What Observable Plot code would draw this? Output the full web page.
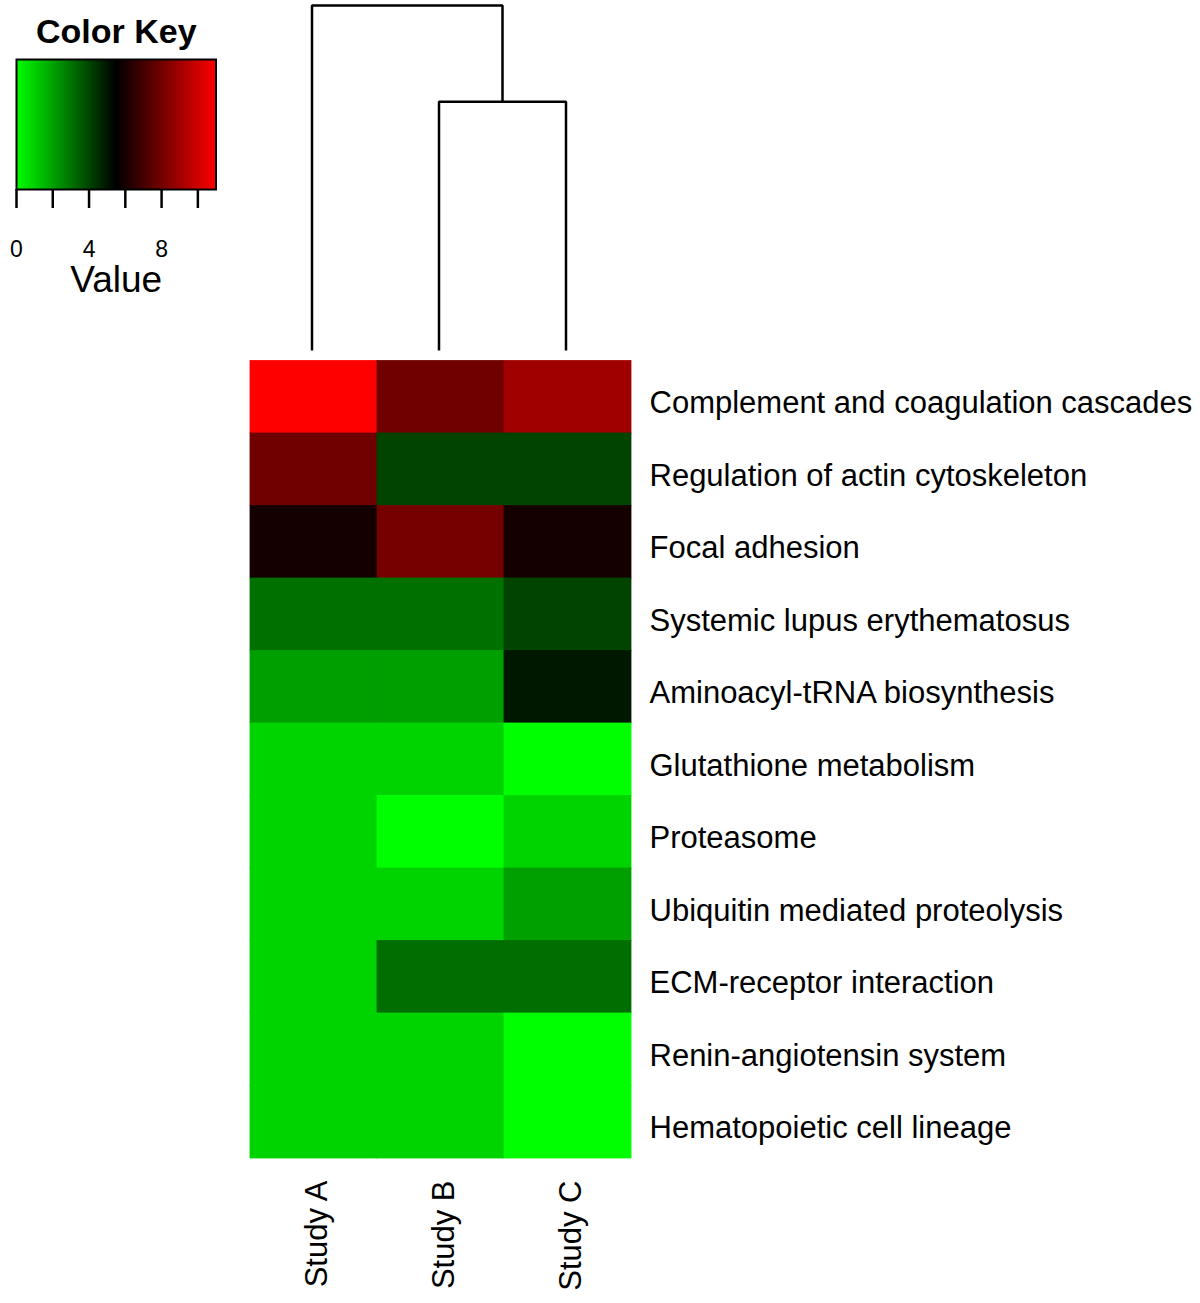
<!DOCTYPE html>
<html>
<head>
<meta charset="utf-8">
<script src="https://cdn.jsdelivr.net/npm/d3@7"></script>
<script src="https://cdn.jsdelivr.net/npm/@observablehq/plot@0.6"></script>
<style>
  html, body { margin: 0; padding: 0; background: white; }
  #chart { position: relative; width: 1200px; height: 1303px; background: white; }
  #chart svg { position: absolute; background: transparent; }
</style>
</head>
<body>
<div id="chart"></div>
<script>
// ---- Data ----
const studies = ["Study A", "Study B", "Study C"];
const pathways = [
  "Complement and coagulation cascades",
  "Regulation of actin cytoskeleton",
  "Focal adhesion",
  "Systemic lupus erythematosus",
  "Aminoacyl-tRNA biosynthesis",
  "Glutathione metabolism",
  "Proteasome",
  "Ubiquitin mediated proteolysis",
  "ECM-receptor interaction",
  "Renin-angiotensin system",
  "Hematopoietic cell lineage"
];
const studyA = [11.0, 7.92, 5.95, 3.08, 2.07, 0.93, 0.93, 0.93, 0.93, 0.93, 0.93];
const studyB = [7.92, 4.03, 8.02, 3.08, 2.07, 0.93, 0.00, 0.93, 3.13, 0.93, 0.93];
const studyC = [8.95, 4.03, 5.95, 4.03, 4.98, 0.00, 0.93, 2.05, 3.13, 0.00, 0.00];

// dendrogram merges (column clustering)
const merges = [
  {id: "BC", left: "Study B", right: "Study C", height: 4.4},
  {id: "root", left: "Study A", right: "BC", height: 6.1}
];

// colour key
const keyDomain = [0, 5.5, 11];
const keyColors = ["#00ff00", "#000000", "#ff0000"];
const keyTicks = [0, 2, 4, 6, 8, 10];
const keyTickLabels = [0, 4, 8];

// ---- Build tables ----
const series = {"Study A": studyA, "Study B": studyB, "Study C": studyC};
const cells = [];
pathways.forEach((p, i) => studies.forEach(s => cells.push({pathway: p, study: s, value: series[s][i]})));

const colorScale = {type: "linear", domain: keyDomain, range: keyColors, interpolate: "rgb"};
const font = "'Liberation Sans', Arial, sans-serif";
const chart = document.getElementById("chart");

// ---- Heatmap ----
const heat = Plot.plot({
  width: 1200,
  height: 1303,
  marginLeft: 250,
  marginRight: 569,
  marginTop: 360.5,
  marginBottom: 145,
  style: {fontFamily: font, background: "transparent"},
  x: {type: "band", domain: studies, padding: 0, round: false, axis: null},
  y: {type: "band", domain: pathways, padding: 0, round: false, axis: null},
  color: colorScale,
  marks: [
    Plot.cell(cells, {x: "study", y: "pathway", fill: "value", inset: 0, stroke: "value", strokeWidth: 0.8}),
    Plot.text(pathways, {y: d => d, frameAnchor: "right", textAnchor: "start", lineAnchor: "middle", dx: 18, dy: 6, fontSize: 31, fill: "black"}),
    Plot.text(studies, {x: d => d, frameAnchor: "bottom", rotate: -90, textAnchor: "end", lineAnchor: "middle", dy: 22, dx: 3, fontSize: 31, fill: "black"})
  ]
});
heat.style.left = "0px"; heat.style.top = "0px";
chart.appendChild(heat);

// ---- Dendrogram ----
const pos = {}; const hgt = {};
studies.forEach((s, i) => { pos[s] = i; hgt[s] = 0; });
const dendroPts = [];
merges.forEach(m => {
  dendroPts.push({id: m.id, x: pos[m.left], y: hgt[m.left]});
  dendroPts.push({id: m.id, x: pos[m.left], y: m.height});
  dendroPts.push({id: m.id, x: pos[m.right], y: m.height});
  dendroPts.push({id: m.id, x: pos[m.right], y: hgt[m.right]});
  pos[m.id] = (pos[m.left] + pos[m.right]) / 2;
  hgt[m.id] = m.height;
});
const dendro = Plot.plot({
  width: 1200,
  height: 361,
  marginLeft: 248,
  marginRight: 571,
  marginTop: 5,
  marginBottom: 11,
  style: {fontFamily: font, background: "transparent"},
  x: {type: "linear", domain: [-0.5, studies.length - 0.5], axis: null},
  y: {type: "linear", domain: [0, merges[merges.length - 1].height], axis: null},
  marks: [
    Plot.line(dendroPts, {x: "x", y: "y", z: "id", stroke: "black", strokeWidth: 2.5, strokeLinejoin: "miter", strokeLinecap: "butt"})
  ]
});
dendro.style.left = "0px"; dendro.style.top = "0px";
chart.appendChild(dendro);

// ---- Colour key ----
const key = Plot.plot({
  width: 240,
  height: 300,
  marginLeft: 16,
  marginRight: 24.5,
  marginTop: 59,
  marginBottom: 111,
  style: {fontFamily: font, background: "transparent"},
  x: {type: "linear", domain: [0, 11]},
  y: {type: "linear", domain: [0, 1], axis: null},
  color: colorScale,
  marks: [
    Plot.raster({x1: 0, x2: 11, y1: 0, y2: 1, fill: (x, y) => x, imageRendering: "auto"}),
    Plot.frame({stroke: "black", strokeWidth: 2}),
    Plot.axisX({ticks: keyTicks, tickSize: 19, strokeWidth: 2.5, stroke: "black", tickFormat: () => "", label: null}),
    Plot.text(keyTickLabels, {x: d => d, frameAnchor: "bottom", lineAnchor: "middle", dy: 60, fontSize: 23, fill: "black"}),
    Plot.text(["Color Key"], {frameAnchor: "top", lineAnchor: "middle", dy: -27, fontSize: 34, fontWeight: "bold", fill: "black"}),
    Plot.text(["Value"], {frameAnchor: "bottom", lineAnchor: "middle", dy: 91, fontSize: 37, fill: "black"})
  ]
});
key.style.left = "0px"; key.style.top = "0px";
chart.appendChild(key);
</script>
</body>
</html>
